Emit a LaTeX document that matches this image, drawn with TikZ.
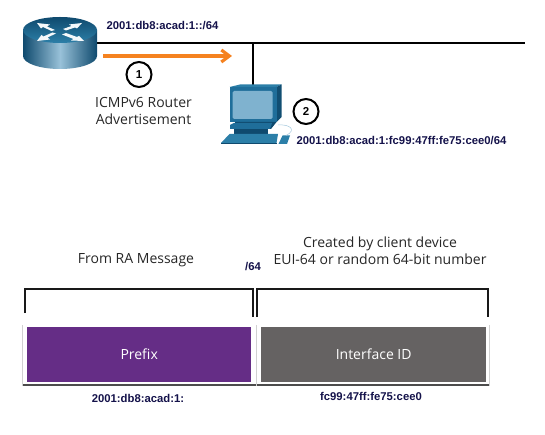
\documentclass[tikz,border=0pt]{standalone}
\usepackage{fontspec}
\setmainfont{Open Sans}
\newfontfamily\boldlab{Liberation Sans}
\usetikzlibrary{arrows.meta,calc}
\definecolor{navy}{HTML}{14124A}
\definecolor{orng}{HTML}{F58220}
\definecolor{purp}{HTML}{652D86}
\definecolor{greyb}{HTML}{656262}
\definecolor{teal1}{HTML}{1F6E9A}
\definecolor{teal2}{HTML}{0F4A6E}
\definecolor{teal3}{HTML}{7FB2CF}
\definecolor{teal4}{HTML}{2C7FA8}
\tikzset{
  addr/.style={font=\boldlab\bfseries\fontsize{11.3}{12}\selectfont,text=navy,inner sep=0pt},
  captxt/.style={font=\fontsize{14}{17}\selectfont,text=black!85,inner sep=0pt,align=center},
  inbox/.style={font=\fontsize{14}{16}\selectfont,text=white,inner sep=0pt},
  numc/.style={circle,draw=black,line width=2pt,minimum size=25pt,inner sep=0pt,fill=white,font=\boldlab\bfseries\fontsize{11.5}{12}\selectfont},
  wire/.style={line width=2.4pt,black},
  brack/.style={line width=2.4pt,black!90,line cap=butt,line join=miter},
  field/.style={draw=none,minimum height=55pt,inner sep=0pt}
}
\begin{document}
\begin{tikzpicture}[x=1pt,y=-1pt]
\useasboundingbox (0,0) rectangle (545,435);
% bus
\coordinate (busL) at (97,43);
\coordinate (busR) at (525,43);
\coordinate (tap) at (253,43);
\coordinate (pcTop) at (253,85);
\draw[wire] (busL) -- (busR);
\draw[wire] (tap) -- (pcTop);
% router
\node[inner sep=0pt,minimum size=0pt] (router) at (60,43) {};
\shade[left color=teal2,right color=teal2,middle color=teal3!80!white]
  (23,30) -- (23,56) arc[start angle=180,end angle=0,x radius=37,y radius=13] -- (97,30) -- cycle;
\shade[top color=teal2,bottom color=teal4,draw=none] (60,30) ellipse[x radius=37,y radius=13];
\fill[white!92!teal3] (37,23) -- (50,24.5) -- (47,26.5) -- (55,30) -- (51.5,31) -- (43,27) -- (41,28.5) -- cycle;
\fill[white!92!teal3] (82,23) -- (69,24.5) -- (71.5,26) -- (63,29) -- (66,30.5) -- (75,27.5) -- (77,28.5) -- cycle;
\fill[white!92!teal3] (37,41) -- (50,39.5) -- (47.5,37.5) -- (56,33.5) -- (52.5,32.5) -- (43.5,36.5) -- (41.5,35) -- cycle;
\fill[white!92!teal3] (84,41) -- (71,40.5) -- (73.5,39) -- (62,34.5) -- (66,33) -- (77,37) -- (79,36) -- cycle;
% arrow
\coordinate (arrS) at (103,56);
\coordinate (arrE) at (232,56);
\draw[orng,line width=3.2pt,-{Straight Barb[length=8pt,width=12pt]}] (arrS) -- (arrE);
\node[numc] (n1) at (139,74.5) {1};
\node[captxt] (ra) at (143.5,111.5) {ICMPv6 Router\\Advertisement};
\node[addr] (lan) at (162.5,25.5) {2001:db8:acad:1::/64};
% computer
\fill[teal4] (229.5,87) -- (240,84.5) -- (281.5,84.5) -- (276.5,87) -- cycle;
\fill[teal2!90!teal1] (276.5,87) -- (281.5,84.5) -- (281.5,117) -- (276.5,122) -- cycle;
\fill[teal1] (229.5,87) rectangle (276.5,122);
\fill[teal3,rounded corners=1.5pt] (232.5,91) rectangle (272.5,119);
\fill[teal2] (235,122) -- (276.5,122) -- (271,129) -- (235,129) -- cycle;
\fill[teal1] (230,125) -- (234,123) -- (272,123) -- (270,129) -- (230,129) -- cycle;
\fill[teal2] (234,129) -- (268,129) -- (268,134) -- (234,134) -- cycle;
\fill[teal4] (221,143) -- (229.5,134) -- (278,134) -- (276.5,143) -- cycle;
\fill[teal2] (221,143) -- (276.5,143) -- (276.5,144) -- (221,144) -- cycle;
\fill[teal4] (278.5,144) -- (282.5,135.5) -- (290,135.5) -- (287,144) -- cycle;
\draw[teal3!70!white,line width=.5pt] (278,125) .. controls (290,124) and (297,130) .. (286,135.5);
\node[inner sep=0pt,minimum size=0pt] (pc) at (253,85) {};
\node[numc] (n2) at (306,111.5) {2};
\node[addr] (host) at (401.5,141) {2001:db8:acad:1:fc99:47ff:fe75:cee0/64};
% captions
\node[captxt] (fromra) at (136,260) {From RA Message};
\node[captxt] (created) at (380,251) {Created by client device\\EUI-64 or random 64-bit number};
\node[addr] (slash) at (253,267) {/64};
% brackets
\coordinate (b1a) at (25,313);
\coordinate (b1b) at (25,289);
\coordinate (b1c) at (253,289);
\coordinate (b1d) at (253,316.5);
\coordinate (b2a) at (257,316.5);
\coordinate (b2b) at (257,289);
\coordinate (b2c) at (488,289);
\coordinate (b2d) at (488,316.5);
\draw[brack] (b1a) -- (b1b) -- (b1c) -- (b1d);
\draw[brack] (b2a) -- (b2b) -- (b2c) -- (b2d);
% fields
\fill[black!18] (22,325) rectangle (257,386);
\fill[black!70] (23,325) rectangle (256,386);
\fill[white] (23,325) rectangle (256,384);
\fill[black!18] (256.5,325) rectangle (490,386);
\fill[black!70] (257,325) rectangle (489,386);
\fill[white] (257,325) rectangle (489,384);
\node[field,fill=purp,minimum width=224pt,anchor=north west] (prefix) at (27,326.5) {};
\node[inbox] at (prefix.center) {Prefix};
\node[field,fill=greyb,minimum width=225pt,anchor=north west] (iid) at (261,326.5) {};
\node[inbox] at (iid.center) {Interface ID};
\node[addr] (pfxval) at (138,398.5) {2001:db8:acad:1:};
\node[addr] (iidval) at (371,396.5) {fc99:47ff:fe75:cee0};
\end{tikzpicture}
\end{document}
